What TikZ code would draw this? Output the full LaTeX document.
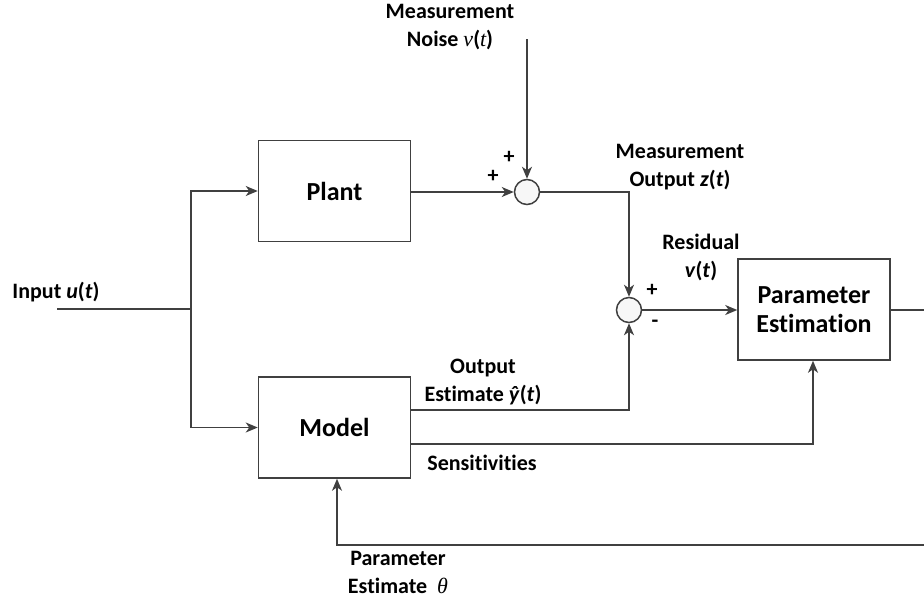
\documentclass[tikz,border=0pt]{standalone}
\usepackage{fontspec}
\setmainfont{Carlito}[Ligatures=NoCommon]
\newfontfamily\serifit{Liberation Serif}[ItalicFont={* Italic}]
\usetikzlibrary{arrows.meta}
\tikzset{
  line/.style={draw=black!75, line width=1.5pt},
  arr/.style={line, -{Stealth[length=12pt,width=10pt,inset=3.5pt]}},
  blockbox/.style={draw=black!75, line width=1.5pt, minimum width=152pt, minimum height=101pt, inner sep=0pt, font=\fontsize{26}{29}\selectfont\bfseries, align=center},
  sumnode/.style={circle, draw=black!75, line width=1.5pt, fill=black!3, minimum size=25pt, inner sep=0pt},
  lbl/.style={inner sep=0pt, font=\fontsize{22}{28}\selectfont\bfseries, align=center, text=black}
}
\begin{document}
\begin{tikzpicture}[x=1pt,y=-1pt]
\useasboundingbox (0,0) rectangle (924,598);
% blocks
\node[blockbox] (plant) at (334.5,191) {Plant};
\node[blockbox] (model) at (334.5,427.5) {Model};
\node[blockbox] (pe) at (814,309.5) {Parameter\\Estimation};
\node[sumnode] (s1) at (527,192) {};
\node[sumnode] (s2) at (629,310) {};
% coordinates
\coordinate (in) at (57,309);
\coordinate (br) at (191,309);
\coordinate (noise) at (527,39);
\coordinate (rt) at (940,310);
\coordinate (rb) at (940,545);
% connectors
\draw[line] (in) -- (br);
\draw[arr] (br) |- (plant.west);
\draw[arr] (br) |- (model.west);
\draw[arr] (plant.east |- s1) -- (s1.west);
\draw[arr] (noise) -- (s1.north);
\draw[arr] (s1.east) -| (s2.north);
\draw[arr] (model.east |- 0,410) -| (s2.south);
\draw[arr] (s2.east) -- (pe.west |- s2);
\draw[arr] (model.east |- 0,444) -| (pe.south -| 813,0);
\draw[arr] (pe.east |- rt) -- (rt) -- (rb) -| (model.south -| 337,0);
% labels
\node[lbl] (lnoise) at (450,27) {Measurement\\Noise {\serifit\mdseries\itshape v}({\serifit\mdseries\itshape t})};
\node[lbl] at (509,157) {+};
\node[lbl] at (493,176) {+};
\node[lbl] (lz) at (680,167) {Measurement\\Output \textit{z}(\textit{t})};
\node[lbl] (lres) at (701,257) {Residual\\\textit{v}(\textit{t})};
\node[lbl] at (652,290) {+};
\node[lbl] at (655,324) {-};
\node[lbl] (lin) at (56,292) {Input \textit{u}(\textit{t})};
\node[lbl] (lyhat) at (483,382) {Output\\Estimate \textit{ŷ}(\textit{t})};
\node[lbl] (lsens) at (482,463) {Sensitivities};
\node[lbl] (ltheta) at (398,572) {Parameter\\Estimate~~{\serifit\mdseries\itshape θ}};
\end{tikzpicture}
\end{document}
